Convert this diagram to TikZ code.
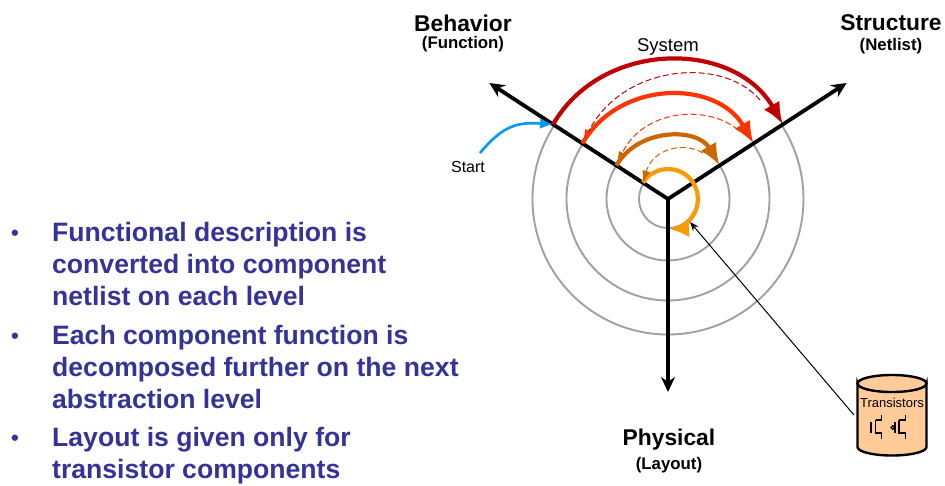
\documentclass[tikz,border=0pt]{standalone}
\usepackage{fontspec}
\setmainfont{Liberation Sans}
\usetikzlibrary{arrows.meta}
\definecolor{bullettext}{HTML}{333399}
\definecolor{ringgray}{HTML}{A0A0A0}
\definecolor{lvlone}{HTML}{C00000}
\definecolor{lvltwo}{HTML}{FF3300}
\definecolor{lvlthree}{HTML}{CC6600}
\definecolor{lvlfour}{HTML}{FF9900}
\definecolor{startblue}{HTML}{0099FF}
\definecolor{dbfill}{HTML}{FFCC99}
\tikzset{
  ring/.style={draw=ringgray, line width=1.9pt},
  axis/.style={line width=3.8pt, -{Stealth[length=15pt,width=14pt]}},
  levelarc/.style={line width=4.2pt, -{Latex[length=22pt,width=18pt]}},
  backarc/.style={line width=1pt, dash pattern=on 6pt off 3pt},
  bullettxt/.style={anchor=north west, align=left, inner sep=0pt, text=bullettext,
    font=\fontsize{26.6}{32}\selectfont\bfseries},
  bulletdot/.style={inner sep=0pt, text=bullettext, font=\fontsize{22}{26}\selectfont\bfseries},
  biglabel/.style={inner sep=0pt, font=\fontsize{22.8}{26}\selectfont\bfseries},
  smalllabel/.style={inner sep=0pt, font=\fontsize{16.8}{20}\selectfont\bfseries},
  dbline/.style={draw=black, line width=2.4pt, fill=dbfill},
  fet/.style={line width=1.2pt}
}
\begin{document}
\begin{tikzpicture}[x=1pt,y=1pt]
\useasboundingbox (-668,-286) rectangle (277,199);

% rings, only the part below the axes
\coordinate (o) at (0,0);
\foreach \r in {29,61.5,101.5,135.5}
  \draw[ring] (147:\r) arc[start angle=147,end angle=393,radius=\r];

% axes
\coordinate (btip) at (147:213);
\coordinate (stip) at (33:213);
\coordinate (ptip) at (0,-193);
\draw[axis] (o) -- (btip);
\draw[axis] (o) -- (stip);
\draw[axis] (o) -- (ptip);

% points where the axes cross the rings
\coordinate (b1) at (147:30);
\coordinate (b2) at (147:61.5);
\coordinate (b3) at (147:102);
\coordinate (b4) at (147:137);
\coordinate (s2) at (33:61.5);
\coordinate (s3) at (33:102);
\coordinate (s4) at (33:137);

% solid arcs
\draw[levelarc, lvlone] (b4) to[out=60,in=120,distance=98pt] (s4);
\draw[levelarc, lvltwo] (b3) to[out=60,in=120,distance=74pt] (s3);
\draw[levelarc, lvlthree] (b2) to[out=60,in=120,distance=44pt] (s2);
\draw[lvlfour, line width=4.2pt, -{Latex[length=20pt,width=18pt]}] (b1) arc[start angle=147,end angle=-88,radius=30];

% dashed arcs going back to the left
\coordinate (d1) at (92,99);
\coordinate (d2) at (70,69);
\coordinate (d3) at (35,46);
\draw[backarc, lvlone, -{Latex[length=14pt,width=8pt,color=lvltwo]}] (d1) .. controls (55,143) and (-45,135) .. (b3);
\draw[backarc, lvltwo, -{Latex[length=14pt,width=8pt,color=lvlthree]}] (d2) .. controls (40,95) and (-25,90) .. (b2);
\draw[backarc, lvlthree, -{Latex[length=12pt,width=8pt,color=lvlthree]}] (d3) .. controls (15,58) and (-15,50) .. (b1);

% start
\node[inner sep=0pt, font=\fontsize{16}{20}\selectfont] (start) at (-200,32) {Start};
\coordinate (startfrom) at (-188,46);
\draw[startblue, line width=2.6pt, -{Latex[length=13pt,width=11pt]}] (startfrom) to[out=50,in=176,distance=36pt] (b4);

% labels
\node[biglabel] (behavior) at (-205,176) {Behavior};
\node[smalllabel] (function) at (-205,155) {(Function)};
\node[biglabel] (structure) at (223,176.5) {Structure};
\node[smalllabel] (netlist) at (223,153) {(Netlist)};
\node[biglabel] (physical) at (1,-240.5) {Physical};
\node[smalllabel] (layout) at (1,-266) {(Layout)};
\node[inner sep=0pt, font=\fontsize{18.5}{22}\selectfont] (system) at (0,152) {System};

% transistors
\coordinate (tdbw) at (186,-216);
\draw[dbline] (189.5,-184) arc[start angle=180,end angle=360,x radius=34.5,y radius=8.5]
  -- (258.5,-248) arc[start angle=0,end angle=-180,x radius=34.5,y radius=8.5] -- cycle;
\draw[dbline] (224,-184.5) ellipse (34.5 and 8.5);
\coordinate (tgt) at (22,-23);
\draw[line width=1pt, -{Stealth[length=9pt,width=7pt]}] (tdbw) -- (tgt);
\node[inner sep=0pt, font=\fontsize{13}{16}\selectfont] (tname) at (224,-204) {Transistors};
\draw[fet] (203,-222.5) -- (203,-233.5) (203,-228.5) -- (201.5,-228.5)
  (207.5,-220.5) -- (207.5,-234.5) (207.5,-221) -- (213.5,-221) -- (213.5,-215.5)
  (207.5,-234) -- (213.5,-234) -- (213.5,-240);
\draw[fet] (227,-222.5) -- (227,-233.5) (231,-220.5) -- (231,-234.5)
  (231,-221) -- (237.5,-221) -- (237.5,-215.5) (231,-234) -- (237.5,-234) -- (237.5,-240);
\draw[fet] (224.8,-228.5) circle (1.8);

% text on the left
\node[bulletdot] (dot1) at (-653,-36) {•};
\node[bullettxt] (item1) at (-616,-23) {Functional description is\\converted into component\\netlist on each level};
\node[bulletdot] (dot2) at (-653,-139) {•};
\node[bullettxt] (item2) at (-616,-126.5) {Each component function is\\decomposed further on the next\\abstraction level};
\node[bulletdot] (dot3) at (-653,-241) {•};
\node[bullettxt] (item3) at (-616,-228.5) {Layout is given only for\\transistor components};
\end{tikzpicture}
\end{document}
